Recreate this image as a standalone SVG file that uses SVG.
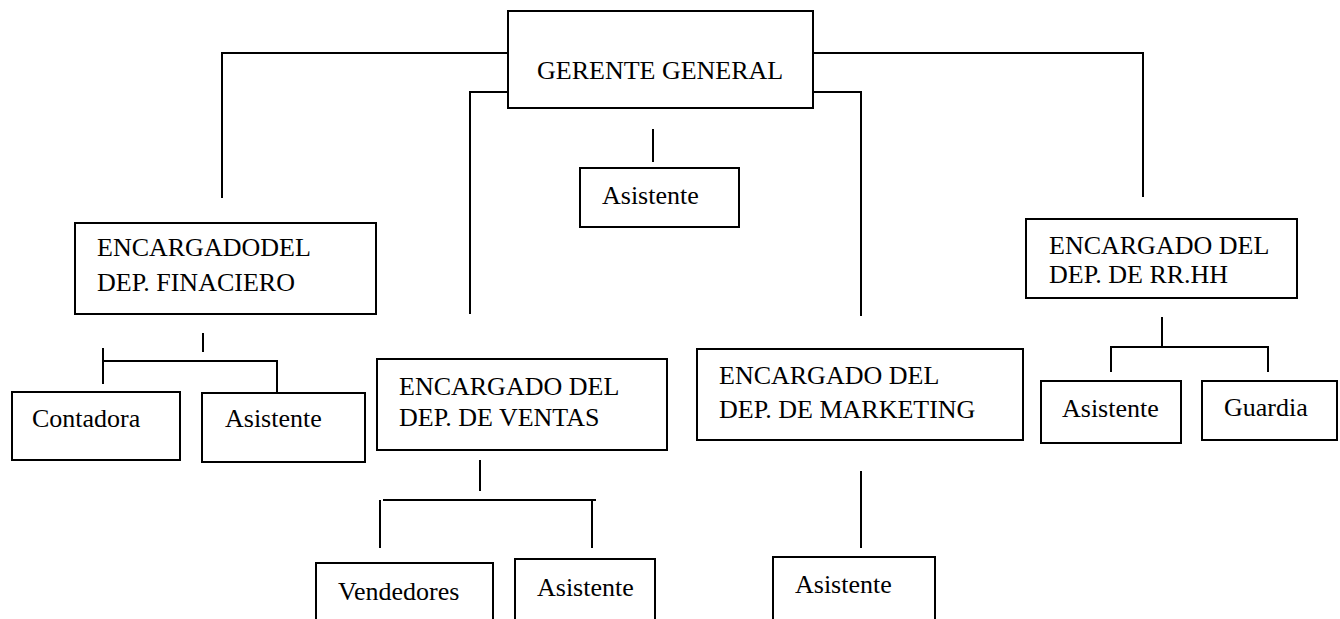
<svg xmlns="http://www.w3.org/2000/svg" width="1340" height="619" viewBox="0 0 1340 619" font-family="'Liberation Serif', 'Times New Roman', Tinos, 'DejaVu Serif', serif" font-size="26">
<style>
.box{fill:#fff;stroke:#000;stroke-width:2}
.ln{fill:none;stroke:#000;stroke-width:2}
.t{font-family:'Liberation Serif','Times New Roman',Tinos,'DejaVu Serif',serif;font-size:26px;fill:#000}
</style>
<rect width="1340" height="619" fill="#fff"/>
<g id="connectors">
<polyline class="ln" points="508,53 222,53 222,198"/>
<polyline class="ln" points="508,92 470,92 470,314"/>
<polyline class="ln" points="813,53 1143,53 1143,197"/>
<polyline class="ln" points="813,92 861,92 861,316"/>
<line class="ln" x1="653" y1="129" x2="653" y2="162"/>
<line class="ln" x1="203" y1="333" x2="203" y2="352"/>
<line class="ln" x1="103" y1="361" x2="278" y2="361"/>
<line class="ln" x1="103" y1="348" x2="103" y2="384"/>
<line class="ln" x1="277" y1="361" x2="277" y2="395"/>
<line class="ln" x1="480" y1="460" x2="480" y2="491"/>
<line class="ln" x1="383" y1="500" x2="596" y2="500"/>
<line class="ln" x1="380" y1="500" x2="380" y2="548"/>
<line class="ln" x1="592" y1="500" x2="592" y2="548"/>
<line class="ln" x1="861" y1="471" x2="861" y2="548"/>
<line class="ln" x1="1162" y1="317" x2="1162" y2="347"/>
<polyline class="ln" points="1111,372 1111,347 1268,347 1268,372"/>
</g>
<g id="gerente"><rect class="box" x="508" y="11" width="305" height="97"/><text class="t" x="537" y="79">GERENTE GENERAL</text></g>
<g id="asistente-gerente"><rect class="box" x="580" y="168" width="159" height="59"/><text class="t" x="602" y="204">Asistente</text></g>
<g id="financiero"><rect class="box" x="75" y="223" width="301" height="91"/><text class="t" x="97" y="256">ENCARGADODEL</text><text class="t" x="97" y="291">DEP. FINACIERO</text></g>
<g id="contadora"><rect class="box" x="12" y="392" width="168" height="68"/><text class="t" x="32" y="427">Contadora</text></g>
<g id="asistente-fin"><rect class="box" x="202" y="393" width="163" height="69"/><text class="t" x="225" y="427">Asistente</text></g>
<g id="ventas"><rect class="box" x="377" y="359" width="290" height="91"/><text class="t" x="399" y="395">ENCARGADO DEL</text><text class="t" x="399" y="426">DEP. DE VENTAS</text></g>
<g id="vendedores"><rect class="box" x="316" y="563" width="177" height="70"/><text class="t" x="338" y="600">Vendedores</text></g>
<g id="asistente-ventas"><rect class="box" x="515" y="559" width="140" height="70"/><text class="t" x="537" y="596">Asistente</text></g>
<g id="marketing"><rect class="box" x="697" y="349" width="326" height="91"/><text class="t" x="719" y="384">ENCARGADO DEL</text><text class="t" x="719" y="418">DEP. DE MARKETING</text></g>
<g id="asistente-mkt"><rect class="box" x="773" y="557" width="162" height="70"/><text class="t" x="795" y="593">Asistente</text></g>
<g id="rrhh"><rect class="box" x="1026" y="219" width="271" height="79"/><text class="t" x="1049" y="254">ENCARGADO DEL</text><text class="t" x="1049" y="283">DEP. DE RR.HH</text></g>
<g id="asistente-rrhh"><rect class="box" x="1041" y="381" width="140" height="62"/><text class="t" x="1062" y="417">Asistente</text></g>
<g id="guardia"><rect class="box" x="1202" y="381" width="135" height="59"/><text class="t" x="1224" y="416">Guardia</text></g>
</svg>
